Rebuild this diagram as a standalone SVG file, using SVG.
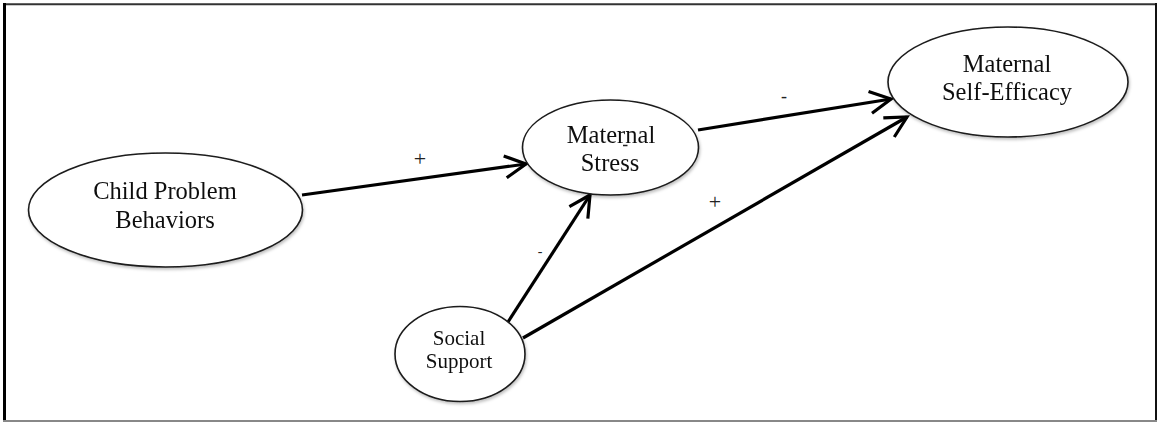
<svg xmlns="http://www.w3.org/2000/svg" width="1157" height="422" viewBox="0 0 1157 422">
  <style>
    .node ellipse { fill: #ffffff; stroke: #1a1a1a; stroke-width: 1.6; }
    .node text { font-family: "Liberation Serif", "Times New Roman", serif; fill: #111111; text-anchor: middle; }
    .big { font-size: 24.5px; }
    .small { font-size: 21px; }
    .conn line { stroke: #000000; stroke-width: 3.2; fill: none; marker-end: url(#arrow); }
    .lbl { font-family: "Liberation Serif", "Times New Roman", serif; fill: #222222; text-anchor: middle; }
  </style>
  <defs>
    <marker id="arrow" markerUnits="userSpaceOnUse" viewBox="-26 -15 30 30" refX="0" refY="0" markerWidth="30" markerHeight="30" orient="auto">
      <path d="M-21,-11 L0,0 L-21,11" fill="none" stroke="#000000" stroke-width="3.2" stroke-linejoin="miter"/>
    </marker>
    <filter id="sh" x="-10%" y="-10%" width="120%" height="130%">
      <feDropShadow dx="1" dy="2" stdDeviation="1.5" flood-color="#000000" flood-opacity="0.25"/>
    </filter>
  </defs>

  <rect x="0" y="0" width="1157" height="422" fill="#ffffff"/>
  <!-- frame -->
  <line x1="3" y1="4.3" x2="1157" y2="4.3" stroke="#333333" stroke-width="2"/>
  <line x1="4.5" y1="3" x2="4.5" y2="422" stroke="#000000" stroke-width="3"/>
  <line x1="1156" y1="3" x2="1156" y2="422" stroke="#111111" stroke-width="2"/>
  <line x1="3" y1="421" x2="1157" y2="421" stroke="#888888" stroke-width="2"/>

  <g id="connectors" class="conn">
    <line x1="302" y1="195" x2="526" y2="164"/>
    <line x1="698" y1="130" x2="891" y2="99"/>
    <line x1="508" y1="322" x2="590" y2="195"/>
    <line x1="523" y1="338" x2="907" y2="117"/>
  </g>

  <g id="labels">
    <text class="lbl" x="420" y="166" font-size="22">+</text>
    <text class="lbl" x="784" y="102" font-size="18">-</text>
    <text class="lbl" x="540" y="256" font-size="14">-</text>
    <text class="lbl" x="715" y="209" font-size="22">+</text>
  </g>

  <g id="child" class="node" filter="url(#sh)">
    <ellipse cx="165.5" cy="210" rx="137" ry="57"/>
    <text class="big" x="165" y="199" font-size="25">Child Problem</text>
    <text class="big" x="165" y="227.5">Behaviors</text>
  </g>

  <g id="stress" class="node" filter="url(#sh)">
    <ellipse cx="610.5" cy="147.5" rx="88" ry="47.5"/>
    <text class="big" x="611" y="143">Maternal</text>
    <text class="big" x="610" y="171">Stress</text>
    <line x1="623" y1="145.5" x2="627.5" y2="145.5" stroke="#222222" stroke-width="1.5"/>
  </g>

  <g id="selfefficacy" class="node" filter="url(#sh)">
    <ellipse cx="1008" cy="82" rx="120" ry="55"/>
    <text class="big" x="1007" y="72">Maternal</text>
    <text class="big" x="1007" y="100">Self-Efficacy</text>
  </g>

  <g id="social" class="node" filter="url(#sh)">
    <ellipse cx="460" cy="354" rx="65" ry="47.5"/>
    <text class="small" x="459" y="345">Social</text>
    <text class="small" x="459" y="368">Support</text>
  </g>
</svg>
